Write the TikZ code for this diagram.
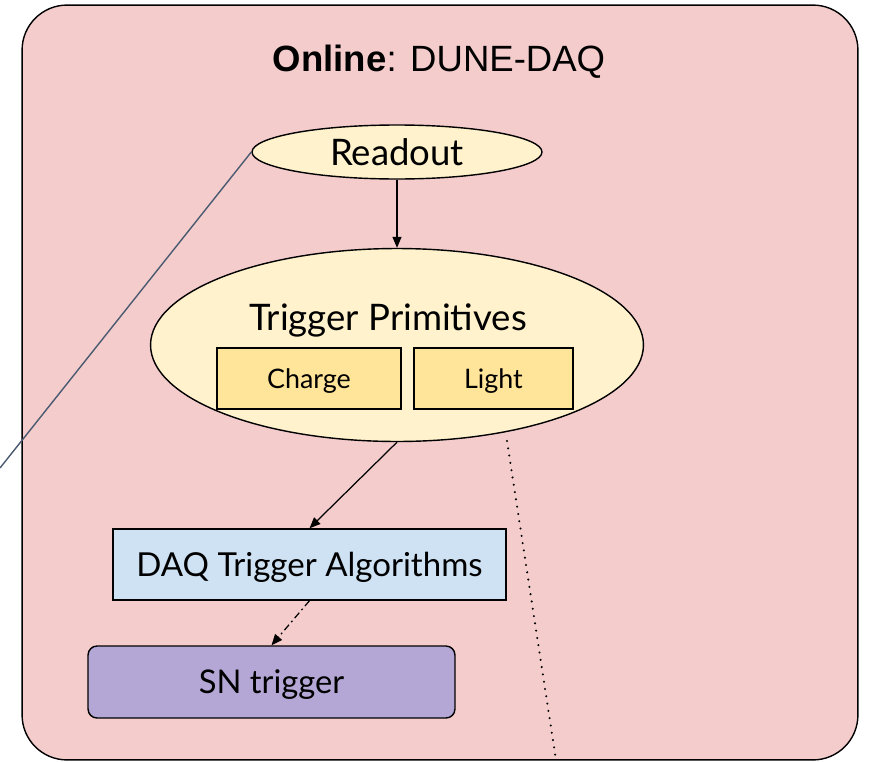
\documentclass[tikz,border=0pt]{standalone}
\usepackage{fontspec}
\setmainfont{Lato}
\newfontfamily\titlefont{Liberation Sans}
\usetikzlibrary{arrows.meta,positioning,shapes.geometric}
\definecolor{onlinepink}{HTML}{F4CCCC}
\definecolor{paleyellow}{HTML}{FFF2CC}
\definecolor{deepyellow}{HTML}{FFE599}
\definecolor{paleblue}{HTML}{CFE2F3}
\definecolor{lilac}{HTML}{B4A7D6}
\definecolor{slate}{HTML}{4A5A70}
\tikzset{
  frame/.style={draw=black,fill=onlinepink,line width=0.8pt,rounded corners=0.9cm},
  title/.style={font=\titlefont\fontsize{20.8}{24}\selectfont,text=black},
  oval/.style={ellipse,draw=black,fill=paleyellow,line width=0.8pt,inner sep=0pt},
  bigtext/.style={font=\fontsize{20.8}{24}\selectfont},
  subbox/.style={draw=black,fill=deepyellow,line width=0.8pt,minimum height=1.22cm,text depth=0pt,font=\fontsize{15.3}{18}\selectfont},
  algbox/.style={draw=black,fill=paleblue,line width=0.8pt,minimum width=7.86cm,minimum height=1.42cm,text depth=0pt,font=\fontsize{18.8}{22}\selectfont},
  trigbox/.style={draw=black,fill=lilac,line width=0.8pt,rounded corners=0.18cm,minimum width=7.34cm,minimum height=1.44cm,text depth=0pt,font=\fontsize{18.6}{22}\selectfont},
  arr/.style={-{Triangle[length=2.2mm,width=1.8mm]},draw=black,line width=0.7pt},
  arrdash/.style={-{Triangle[length=2.2mm,width=1.8mm]},draw=black,line width=0.7pt,dash pattern=on 4pt off 2pt on 1pt off 2pt},
  link/.style={draw=slate,line width=0.8pt},
  dotline/.style={draw=black,line width=1.3pt,line cap=round,dash pattern=on 0pt off 4.2pt}
}
\begin{document}
\begin{tikzpicture}[x=0.02cm,y=-0.02cm]
\useasboundingbox (0,0) rectangle (869,761);
% outer block
\node[frame,minimum width=16.72cm,minimum height=15.1cm] (online) at (440,382.5) {};
\node[title] (ttl) at (439,62) {\textbf{Online}: DUNE-DAQ};
% readout and primitives
\node[oval,bigtext,minimum width=5.8cm,minimum height=1.08cm] (readout) at (397,152) {Readout};
\node[oval,minimum width=9.86cm,minimum height=3.86cm] (tp) at (397,345) {};
\node[bigtext] (tplabel) at (388,320) {Trigger Primitives};
\node[subbox,minimum width=3.68cm] (charge) at (309,378.5) {Charge};
\node[subbox,minimum width=3.18cm] (light) at (493.5,378.5) {Light};
% trigger chain
\node[algbox] (daq) at (309.5,564.5) {DAQ Trigger Algorithms};
\node[trigbox] (sn) at (271.5,682) {SN trigger};
\coordinate (linkend) at (0,468);
\coordinate (dotstart) at (507,441);
\coordinate (dotend) at (556,760);
\draw[arr] (readout.south) -- (tp.north);
\draw[arr] (tp.south) -- (daq.north);
\draw[arrdash] (daq.south) -- (sn.north);
\draw[dotline] (dotstart) -- (dotend);
\draw[link] (readout.west) -- (linkend);
\end{tikzpicture}
\end{document}
